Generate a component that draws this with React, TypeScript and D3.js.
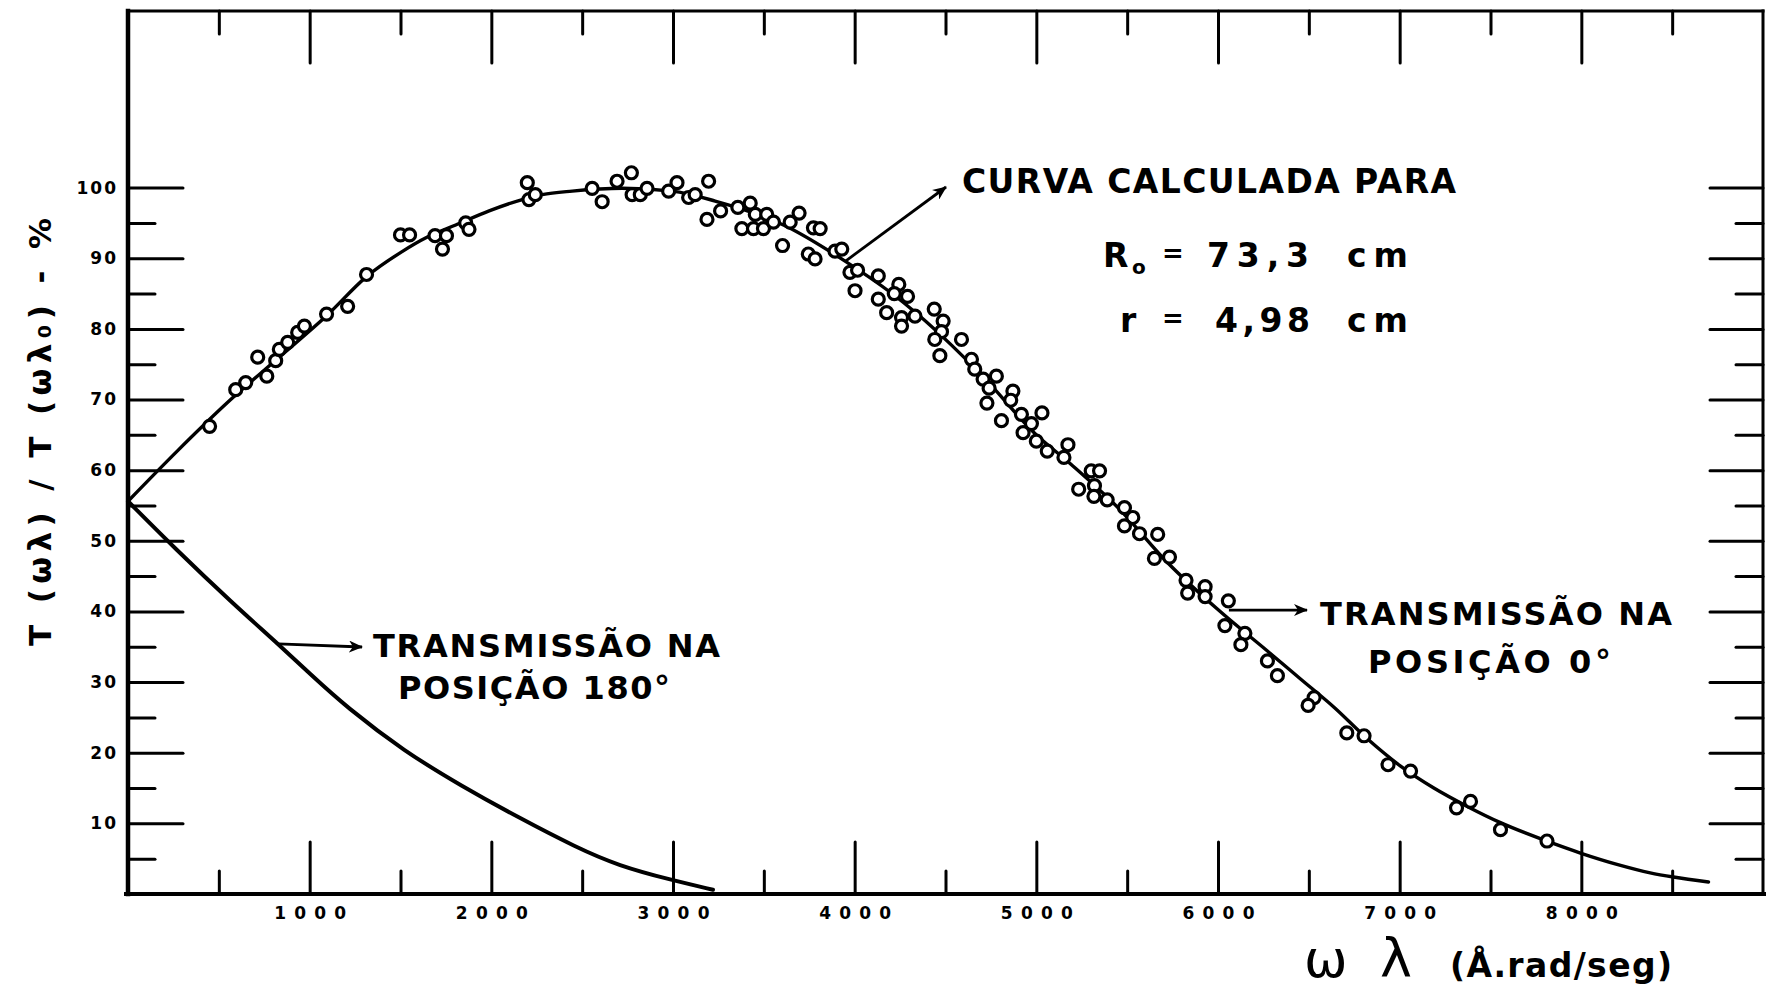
import { useEffect, useRef } from "react";
import * as d3 from "d3";

// calculated transmission curve, position 0 deg  [omega*lambda, T %]
const curve0: [number, number][] = [
  [0, 55.6], [275, 62.8], [549, 69.6], [824, 75.8], [1099, 82.0], [1313, 87.4],
  [1500, 90.8], [1648, 93.0], [1804, 94.7], [1988, 96.7], [2170, 98.3], [2280, 99.0],
  [2445, 99.5], [2720, 99.9], [2995, 99.5], [3232, 98.1], [3617, 94.6], [3947, 89.6],
  [4185, 85.4], [4350, 82.0], [4533, 77.7], [4716, 73.0], [4992, 65.2], [5192, 60.8],
  [5449, 54.7], [5723, 46.9], [5998, 40.3], [6272, 34.4], [6456, 30.4], [6640, 26.4],
  [6825, 21.9], [7005, 18.1], [7188, 15.0], [7372, 12.4], [7555, 10.1], [7830, 7.3],
  [7995, 5.8], [8196, 4.2], [8379, 3.0], [8507, 2.4], [8700, 1.7],
];

// transmission curve, position 180 deg
const curve180: [number, number][] = [
  [0, 55.6], [259, 48.9], [574, 41.2], [826, 35.4], [1000, 31.2], [1205, 26.4],
  [1521, 20.2], [1835, 15.3], [2151, 10.8], [2467, 6.6], [2700, 4.0], [2988, 2.0],
  [3220, 0.6],
];

// measured points (open circles)
const measured: [number, number][] = [
  [449, 66.2], [593, 71.4], [648, 72.4], [714, 76.0], [764, 73.3], [813, 75.5],
  [833, 77.1], [879, 78.1], [934, 79.5], [971, 80.4], [1093, 82.1], [1209, 83.2],
  [1313, 87.7], [1500, 93.3], [1550, 93.3], [1690, 93.2], [1731, 91.3], [1753, 93.2],
  [1859, 95.0], [1877, 94.1], [2198, 100.7], [2207, 98.3], [2242, 99.0], [2555, 99.9],
  [2610, 98.0], [2692, 100.9], [2771, 102.1], [2775, 99.0], [2820, 99.0], [2857, 99.9],
  [2976, 99.5], [3022, 100.7], [3086, 98.6], [3122, 99.0], [3196, 100.9], [3187, 95.5],
  [3262, 96.7], [3357, 97.2], [3425, 97.8], [3453, 96.2], [3516, 96.2], [3379, 94.2],
  [3443, 94.2], [3498, 94.2], [3553, 95.1], [3645, 95.1], [3694, 96.4], [3603, 91.8],
  [3773, 94.3], [3810, 94.2], [3745, 90.6], [3782, 89.9], [3892, 91.0], [3929, 91.3],
  [3974, 88.0], [4016, 88.3], [4002, 85.4], [4130, 87.5], [4243, 86.3], [4218, 85.0],
  [4291, 84.6], [4130, 84.2], [4176, 82.3], [4258, 81.6], [4258, 80.4], [4332, 81.8],
  [4438, 82.8], [4487, 81.1], [4478, 79.6], [4441, 78.5], [4469, 76.2], [4588, 78.5],
  [4643, 75.7], [4661, 74.3], [4707, 72.9], [4780, 73.3], [4740, 71.6], [4728, 69.5],
  [4808, 67.0], [4871, 71.2], [4859, 69.9], [4918, 67.9], [4973, 66.6], [5031, 68.1],
  [4927, 65.3], [5000, 64.1], [5060, 62.7], [5174, 63.6], [5152, 61.8], [5302, 59.9],
  [5348, 59.9], [5320, 57.8], [5233, 57.3], [5317, 56.3], [5390, 55.8], [5485, 54.7],
  [5531, 53.3], [5485, 52.1], [5568, 51.0], [5668, 50.9], [5650, 47.5], [5733, 47.7],
  [5824, 44.4], [5929, 43.5], [5833, 42.6], [5929, 42.1], [6057, 41.5], [6038, 38.0],
  [6148, 36.9], [6126, 35.3], [6272, 33.0], [6327, 30.9], [6529, 27.8], [6496, 26.7],
  [6709, 22.8], [6804, 22.4], [6936, 18.3], [7060, 17.4], [7313, 12.2], [7390, 13.1],
  [7555, 9.1], [7811, 7.5],
];

const xMajor = [1000, 2000, 3000, 4000, 5000, 6000, 7000, 8000];
const xMinor = [500, 1500, 2500, 3500, 4500, 5500, 6500, 7500, 8500];
const xLabels = ["1000", "2000", "3000", "4000", "5000", "6000", "7000", "8000"];
const yMajor = [10, 20, 30, 40, 50, 60, 70, 80, 90, 100];
const yMinor = [5, 15, 25, 35, 45, 55, 65, 75, 85, 95];

const FONT = "'DejaVu Sans', sans-serif";

const App = () => {
  const gRef = useRef<SVGGElement>(null);

  const x = d3.scaleLinear().domain([0, 9000]).range([128, 1763]);
  const y = d3.scaleLinear().domain([0, 125]).range([894, 11]);

  useEffect(() => {
    const g = d3.select(gRef.current);
    g.selectAll("*").remove();

    const styleTicks = (s: any) => {
      s.select(".domain").remove();
      s.selectAll(".tick line")
        .attr("stroke", "#000")
        .attr("stroke-width", 3)
        .attr("stroke-linecap", "round");
    };

    // bottom axis, labelled
    const bottom = g
      .append("g")
      .attr("transform", `translate(0,${y(0)})`)
      .call(
        d3.axisBottom(x)
          .tickValues(xMajor)
          .tickSize(-52)
          .tickSizeOuter(0)
          .tickPadding(13)
          .tickFormat((d, i) => xLabels[i])
      )
      .call(styleTicks);
    bottom
      .selectAll(".tick text")
      .attr("font-family", FONT)
      .attr("font-weight", "bold")
      .attr("font-size", 17)
      .attr("textLength", 72)
      .attr("lengthAdjust", "spacing")
      .attr("fill", "#000");

    g.append("g")
      .attr("transform", `translate(0,${y(0)})`)
      .call(d3.axisBottom(x).tickValues(xMinor).tickSize(-23).tickSizeOuter(0).tickFormat(() => ""))
      .call(styleTicks);

    // top axis
    g.append("g")
      .attr("transform", `translate(0,${y(125)})`)
      .call(d3.axisTop(x).tickValues(xMajor).tickSize(-52).tickSizeOuter(0).tickFormat(() => ""))
      .call(styleTicks);
    g.append("g")
      .attr("transform", `translate(0,${y(125)})`)
      .call(d3.axisTop(x).tickValues(xMinor).tickSize(-23).tickSizeOuter(0).tickFormat(() => ""))
      .call(styleTicks);

    // left axis, labelled
    const left = g
      .append("g")
      .attr("transform", `translate(${x(0)},0)`)
      .call(d3.axisLeft(y).tickValues(yMajor).tickSize(-55).tickSizeOuter(0).tickPadding(10))
      .call(styleTicks);
    left
      .selectAll(".tick text")
      .attr("font-family", FONT)
      .attr("font-weight", "bold")
      .attr("font-size", 17)
      .attr("letter-spacing", 2)
      .attr("fill", "#000");

    g.append("g")
      .attr("transform", `translate(${x(0)},0)`)
      .call(d3.axisLeft(y).tickValues(yMinor).tickSize(-27).tickSizeOuter(0).tickFormat(() => ""))
      .call(styleTicks);

    // right axis
    g.append("g")
      .attr("transform", `translate(${x(9000)},0)`)
      .call(d3.axisRight(y).tickValues(yMajor).tickSize(-53).tickSizeOuter(0).tickFormat(() => ""))
      .call(styleTicks);
    g.append("g")
      .attr("transform", `translate(${x(9000)},0)`)
      .call(d3.axisRight(y).tickValues(yMinor).tickSize(-27).tickSizeOuter(0).tickFormat(() => ""))
      .call(styleTicks);

    // frame
    const frame = [
      { x1: x(0), y1: y(125), x2: x(0), y2: y(0), w: 4.5 },
      { x1: x(0) - 2, y1: y(0), x2: x(9000) + 1, y2: y(0), w: 4 },
      { x1: x(0), y1: y(125), x2: x(9000), y2: y(125), w: 3 },
      { x1: x(9000), y1: y(125), x2: x(9000), y2: y(0), w: 3 },
    ];
    g.selectAll(".frame")
      .data(frame)
      .enter()
      .append("line")
      .attr("x1", (d) => d.x1)
      .attr("y1", (d) => d.y1)
      .attr("x2", (d) => d.x2)
      .attr("y2", (d) => d.y2)
      .attr("stroke", "#000")
      .attr("stroke-width", (d) => d.w)
      .attr("stroke-linecap", "square");

    const line0 = d3
      .line<[number, number]>()
      .x((d) => x(d[0]))
      .y((d) => y(d[1]))
      .curve(d3.curveMonotoneX);

    const line180 = d3
      .line<[number, number]>()
      .x((d) => x(d[0]))
      .y((d) => y(d[1]))
      .curve(d3.curveBasis);

    g.append("path")
      .attr("d", line180(curve180) || "")
      .attr("fill", "none")
      .attr("stroke", "#000")
      .attr("stroke-width", 4)
      .attr("stroke-linecap", "round");

    g.append("path")
      .attr("d", line0(curve0) || "")
      .attr("fill", "none")
      .attr("stroke", "#000")
      .attr("stroke-width", 3.4)
      .attr("stroke-linecap", "round");

    g.selectAll(".pt")
      .data(measured)
      .enter()
      .append("circle")
      .attr("cx", (d) => x(d[0]))
      .attr("cy", (d) => y(d[1]))
      .attr("r", 6)
      .attr("fill", "#fff")
      .attr("stroke", "#000")
      .attr("stroke-width", 3.2);

    // annotation arrows, starting on the curves
    const arrows = [
      { x1: x(3950), y1: y(89.6), x2: 946, y2: 187 },
      { x1: x(6060), y1: y(40.2), x2: 1307, y2: y(40.2) },
      { x1: x(826), y1: y(35.4), x2: 362, y2: 647 },
    ];
    g.selectAll(".arrow")
      .data(arrows)
      .enter()
      .append("line")
      .attr("x1", (d) => d.x1)
      .attr("y1", (d) => d.y1)
      .attr("x2", (d) => d.x2)
      .attr("y2", (d) => d.y2)
      .attr("stroke", "#000")
      .attr("stroke-width", 2.8)
      .attr("marker-end", "url(#arrowhead)");
  }, []);

  const txt = {
    fontFamily: FONT,
    fontWeight: "bold" as const,
    fill: "#000",
  };

  return (
    <svg
      width={1767}
      height={994}
      style={{ position: "absolute", left: 0, top: 0, background: "#fff" }}
    >
      <defs>
        <marker
          id="arrowhead"
          viewBox="0 0 14 12"
          refX="13"
          refY="6"
          markerWidth="14"
          markerHeight="12"
          markerUnits="userSpaceOnUse"
          orient="auto"
        >
          <path d="M0,0 L14,6 L0,12 L4,6 Z" fill="#000" />
        </marker>
      </defs>
      <rect x={0} y={0} width={1767} height={994} fill="#fff" />
      <g ref={gRef} />

      {/* axis titles */}
      <text
        {...txt}
        fontSize={31}
        textAnchor="middle"
        transform="translate(51,432) rotate(-90)"
        textLength={428}
        lengthAdjust="spacing"
      >
        {"T (ωλ) / T (ωλ₀)  -  %"}
      </text>
      <text {...txt} fontWeight="normal" fontSize={52} x={1304} y={977}>
        ω
      </text>
      <text {...txt} fontWeight="normal" fontSize={54} x={1380} y={977}>
        λ
      </text>
      <text {...txt} fontSize={33} x={1450} y={977} textLength={222} lengthAdjust="spacing">
        (Å.rad/seg)
      </text>

      {/* calculated curve note */}
      <text {...txt} fontSize={33} x={962} y={193} textLength={494} lengthAdjust="spacing">
        CURVA CALCULADA PARA
      </text>
      <text {...txt} fontSize={33} y={267}>
        <tspan x={1103}>R</tspan>
        <tspan x={1132} y={274} fontSize={20}>o</tspan>
        <tspan x={1162} y={262} fontSize={26}>=</tspan>
        <tspan x={1207} y={267} textLength={102} lengthAdjust="spacing">73,3</tspan>
        <tspan x={1347} y={267} textLength={61} lengthAdjust="spacing">cm</tspan>
      </text>
      <text {...txt} fontSize={33} y={332}>
        <tspan x={1120}>r</tspan>
        <tspan x={1162} y={327} fontSize={26}>=</tspan>
        <tspan x={1215} y={332} textLength={95} lengthAdjust="spacing">4,98</tspan>
        <tspan x={1347} y={332} textLength={61} lengthAdjust="spacing">cm</tspan>
      </text>

      {/* position labels */}
      <text {...txt} fontSize={32} x={1320} y={625} textLength={352} lengthAdjust="spacing">
        TRANSMISSÃO NA
      </text>
      <text {...txt} fontSize={32} x={1368} y={673} textLength={243} lengthAdjust="spacing">
        POSIÇÃO 0°
      </text>
      <text {...txt} fontSize={32} x={373} y={657} textLength={347} lengthAdjust="spacing">
        TRANSMISSÃO NA
      </text>
      <text {...txt} fontSize={32} x={398} y={699} textLength={272} lengthAdjust="spacing">
        POSIÇÃO 180°
      </text>
    </svg>
  );
};

export default App;
